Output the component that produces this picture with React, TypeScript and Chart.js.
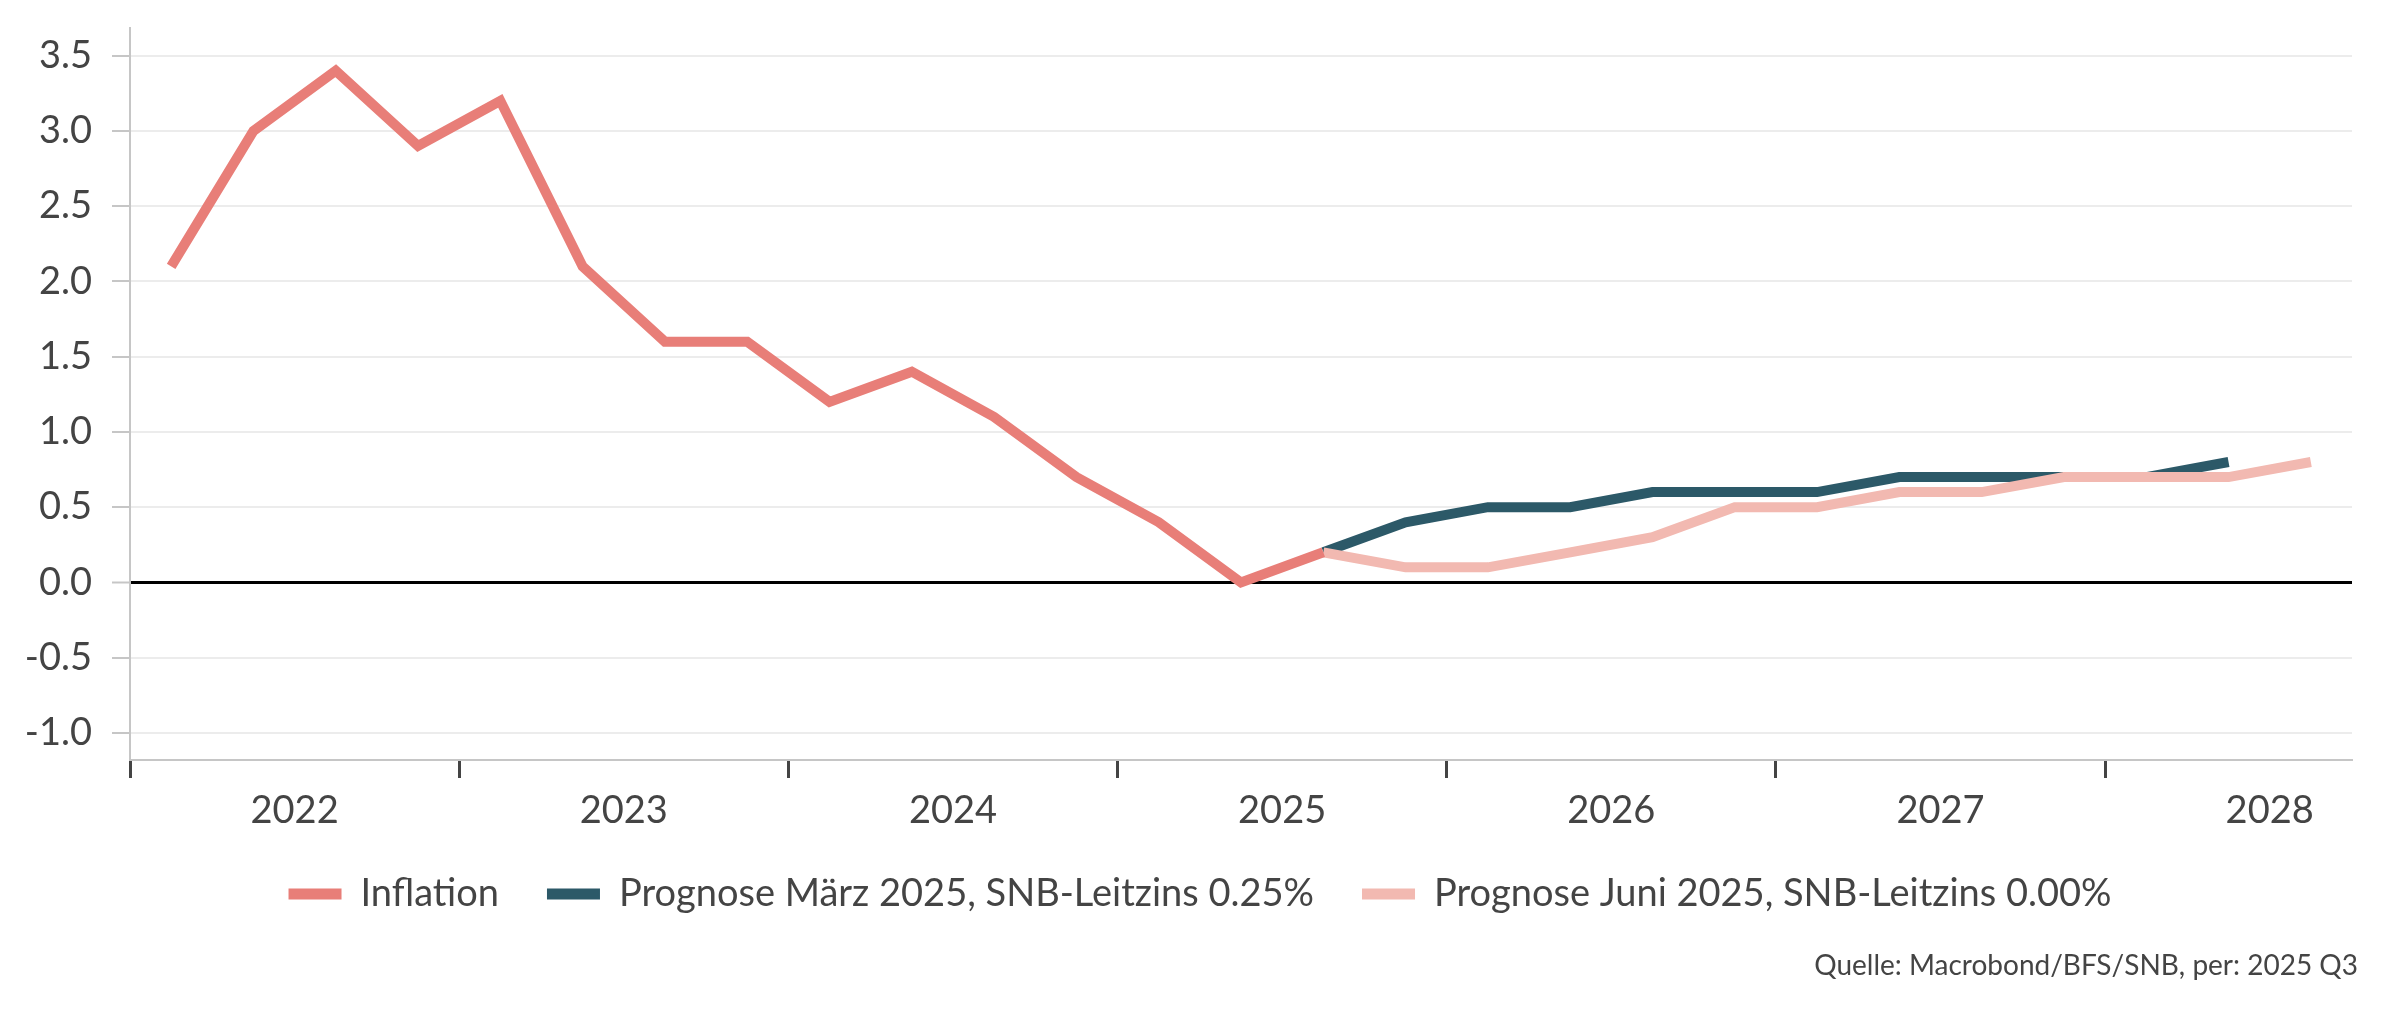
import React, { useEffect, useRef } from 'react';
import { Chart, registerables } from 'chart.js';

Chart.register(...registerables);

const quarterLabels = [
  '2022 Q1', '2022 Q2', '2022 Q3', '2022 Q4',
  '2023 Q1', '2023 Q2', '2023 Q3', '2023 Q4',
  '2024 Q1', '2024 Q2', '2024 Q3', '2024 Q4',
  '2025 Q1', '2025 Q2', '2025 Q3', '2025 Q4',
  '2026 Q1', '2026 Q2', '2026 Q3', '2026 Q4',
  '2027 Q1', '2027 Q2', '2027 Q3', '2027 Q4',
  '2028 Q1', '2028 Q2', '2028 Q3',
];
const yearLabels = ['2022', '2023', '2024', '2025', '2026', '2027', '2028'];

const inflationStart = '2022 Q1';
const inflationValues = [2.1, 3.0, 3.4, 2.9, 3.2, 2.1, 1.6, 1.6, 1.2, 1.4, 1.1, 0.7, 0.4, 0.0, 0.2];

const marchStart = '2025 Q3';
const marchValues = [0.2, 0.4, 0.5, 0.5, 0.6, 0.6, 0.6, 0.7, 0.7, 0.7, 0.7, 0.8];

const juneStart = '2025 Q3';
const juneValues = [0.2, 0.1, 0.1, 0.2, 0.3, 0.5, 0.5, 0.6, 0.6, 0.7, 0.7, 0.7, 0.8];

const yTickValues = [-1.0, -0.5, 0.0, 0.5, 1.0, 1.5, 2.0, 2.5, 3.0, 3.5];

const seriesNames = [
  'Inflation',
  'Prognose März 2025, SNB-Leitzins 0.25%',
  'Prognose Juni 2025, SNB-Leitzins 0.00%',
];
const sourceText = 'Quelle: Macrobond/BFS/SNB, per: 2025 Q3';

const COLORS = ['#E87E78', '#2C5968', '#F2B9B1'];
const FONT = 'Lato, "Noto Sans", sans-serif';
const TEXT = '#444444';

function toPoints(start: string, values: number[]) {
  const s = quarterLabels.indexOf(start);
  return values.map((v, i) => ({ x: s + i + 0.5, y: v }));
}

const sourcePlugin = {
  id: 'sourceText',
  afterDraw(chart: any) {
    const ctx = chart.ctx;
    ctx.save();
    ctx.font = `28px ${FONT}`;
    ctx.fillStyle = TEXT;
    ctx.textAlign = 'right';
    ctx.textBaseline = 'middle';
    ctx.fillText(sourceText, chart.chartArea.right + 6, 966);
    ctx.restore();
  },
};

export default function App() {
  const ref = useRef<HTMLCanvasElement | null>(null);

  useEffect(() => {
    if (!ref.current) return;
    const mk = (idx: number, data: { x: number; y: number }[], order: number) => ({
      label: seriesNames[idx],
      data,
      borderColor: COLORS[idx],
      backgroundColor: COLORS[idx],
      borderWidth: 10,
      pointRadius: 0,
      pointHoverRadius: 0,
      tension: 0,
      fill: false,
      borderJoinStyle: 'miter' as const,
      borderCapStyle: 'butt' as const,
      order,
      yAxisID: 'y',
    });
    const chart = new Chart(ref.current, {
      type: 'line',
      data: {
        datasets: [
          mk(0, toPoints(inflationStart, inflationValues), 0),
          mk(1, toPoints(marchStart, marchValues), 2),
          mk(2, toPoints(juneStart, juneValues), 1),
        ],
      },
      plugins: [sourcePlugin],
      options: {
        responsive: false,
        animation: false,
        devicePixelRatio: 1,
        layout: { padding: { left: 0, right: 0, top: 28, bottom: 98 } },
        plugins: {
          tooltip: { enabled: false },
          title: { display: false },
          legend: {
            position: 'bottom',
            align: 'center',
            labels: {
              font: { family: FONT, size: 38, lineHeight: 1.0 },
              color: TEXT,
              boxWidth: 53,
              boxHeight: 11,
              padding: 48,
              sort: (a: any, b: any) => a.datasetIndex - b.datasetIndex,
              generateLabels: (c: any) =>
                Chart.defaults.plugins.legend.labels.generateLabels(c).map((l: any) => ({
                  ...l,
                  fillStyle: COLORS[l.datasetIndex],
                  lineWidth: 0,
                  strokeStyle: 'rgba(0,0,0,0)',
                })),
            },
          },
        },
        scales: {
          x: {
            type: 'linear',
            min: 0,
            max: quarterLabels.length,
            afterBuildTicks: (scale: any) => {
              const t: { value: number }[] = [];
              yearLabels.forEach((_, k) => {
                t.push({ value: 4 * k });
                t.push({ value: 4 * k + 2 });
              });
              scale.ticks = t;
            },
            afterFit: (scale: any) => {
              scale.height = 67;
              scale.paddingLeft = 0;
              scale.paddingRight = 0;
            },
            grid: {
              display: true,
              drawOnChartArea: false,
              drawTicks: true,
              tickLength: 18,
              tickWidth: 3,
              tickColor: (ctx: any) =>
                ctx.tick && ctx.tick.value % 4 === 0 ? TEXT : 'rgba(0,0,0,0)',
            },
            border: { display: true, color: '#c6c6c6', width: 2 },
            ticks: {
              autoSkip: false,
              maxRotation: 0,
              minRotation: 0,
              padding: 14,
              color: TEXT,
              font: { family: FONT, size: 38, lineHeight: 1.0 },
              callback: (value: any) => {
                const v = Number(value);
                return v % 4 === 2 ? yearLabels[(v - 2) / 4] : '';
              },
            },
          },
          y: {
            type: 'linear',
            position: 'left',
            min: -1.18,
            max: 3.684,
            afterBuildTicks: (scale: any) => {
              scale.ticks = yTickValues.map((v) => ({ value: v }));
            },
            afterFit: (scale: any) => {
              scale.width = 130;
              scale.paddingTop = 0;
              scale.paddingBottom = 0;
            },
            grid: {
              color: (ctx: any) => (ctx.tick && ctx.tick.value === 0 ? '#000000' : '#ececec'),
              lineWidth: (ctx: any) => (ctx.tick && ctx.tick.value === 0 ? 3 : 2),
              drawTicks: true,
              tickLength: 18,
              tickWidth: 2,
              tickColor: '#c6c6c6',
            },
            border: { display: true, color: '#c6c6c6', width: 2 },
            ticks: {
              padding: 20,
              color: TEXT,
              font: { family: FONT, size: 38 },
              callback: (value: any) => Number(value).toFixed(1),
            },
          },
          yRightSpace: {
            type: 'linear',
            position: 'right',
            display: true,
            grid: { display: false, drawTicks: false },
            border: { display: false },
            ticks: { display: false },
            afterFit: (scale: any) => {
              scale.width = 48;
              scale.paddingTop = 0;
              scale.paddingBottom = 0;
            },
          },
        },
      },
    } as any);
    return () => chart.destroy();
  }, []);

  return (
    <div style={{ position: 'fixed', left: 0, top: 0, width: 2400, height: 1021, background: '#fff' }}>
      <canvas ref={ref} width={2400} height={1021} style={{ display: 'block', width: 2400, height: 1021 }} />
    </div>
  );
}
